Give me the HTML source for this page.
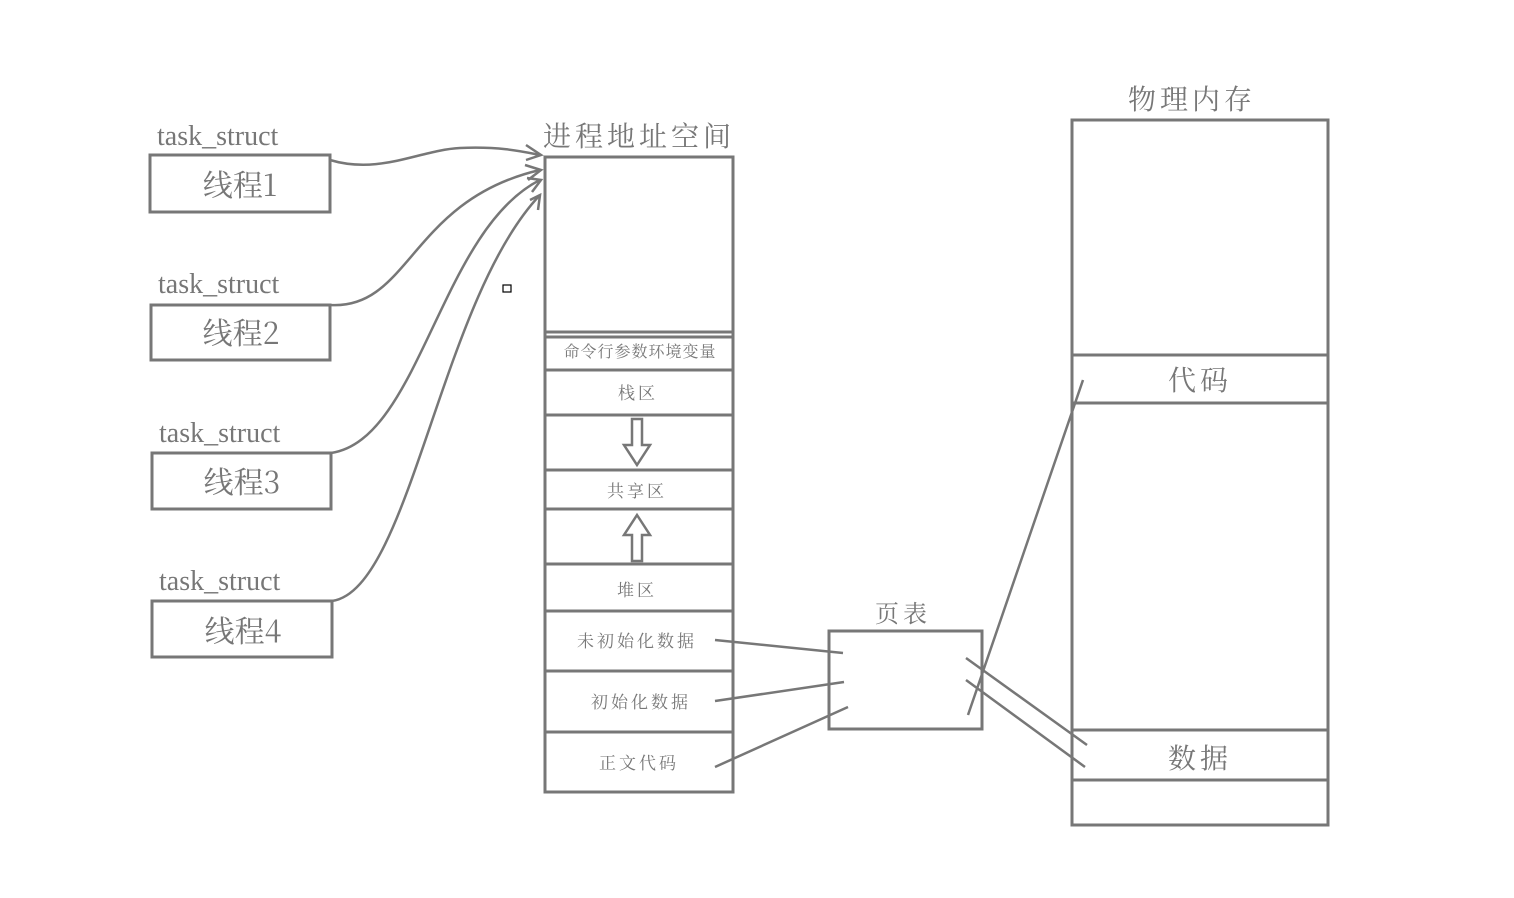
<!DOCTYPE html>
<html><head><meta charset="utf-8"><style>
body{margin:0;background:#fff}
svg text{fill:#777}
.s{font-family:"Liberation Serif","Noto Serif CJK SC",serif}
.c{font-family:"Noto Serif CJK SC","WenQuanYi Zen Hei",serif}
</style></head><body>
<svg width="1514" height="893" xmlns="http://www.w3.org/2000/svg">
<g fill="none" stroke="#777" stroke-width="3">
<rect x="150" y="155" width="180" height="57"/>
<rect x="151" y="305" width="179" height="55"/>
<rect x="152" y="453" width="179" height="56"/>
<rect x="152" y="601" width="180" height="56"/>
<rect x="545" y="157" width="188" height="635"/>
<path d="M545 332H733M545 337H733M545 370H733M545 415H733M545 470H733M545 509H733M545 564H733M545 611H733M545 671H733M545 732H733"/>
<rect x="829" y="631" width="153" height="98"/>
<rect x="1072" y="120" width="256" height="705"/>
<path d="M1072 355H1328M1072 403H1328M1072 730H1328M1072 780H1328"/>
<path d="M715 640L843 653M715 701L844 682M715 767L848 707M968 715L1083 380M966 658L1087 745M966 680L1085 767" stroke-width="2.5"/>
<path d="M330 160C380 175 420 150 460 148C500 146 525 152 540 155" stroke-width="2.5"/>
<path d="M330 305C410 310 410 200 540 170" stroke-width="2.5"/>
<path d="M331 453C420 440 440 230 540 180" stroke-width="2.5"/>
<path d="M332 601C410 590 440 300 540 195" stroke-width="2.5"/>
<path d="M526 145L541 155L526 160M525 165L541 170L528 180M527 178L541 180L532 192M530 200L540 195L538 210" stroke-width="2.5"/>
<path d="M632 419H642V445H650L637 465L624 445H632Z" stroke-width="2.5"/>
<path d="M632 561H642V535H650L637 515L624 535H632Z" stroke-width="2.5"/>
<rect x="503" y="285" width="8" height="7" stroke="#000" stroke-width="1.2"/>
</g>
<g class="s" font-size="28">
<text x="157" y="145">task_struct</text>
<text x="158" y="293">task_struct</text>
<text x="159" y="442">task_struct</text>
<text x="159" y="590">task_struct</text>
</g>
<g class="c" font-size="30" text-anchor="middle">
<text x="240" y="196">线程1</text>
<text x="241" y="344">线程2</text>
<text x="242" y="493">线程3</text>
<text x="243" y="642">线程4</text>
<text x="639" y="146" font-size="28" letter-spacing="4">进程地址空间</text>
<text x="1192" y="109" font-size="28" letter-spacing="4">物理内存</text>
<text x="903" y="622" font-size="24" letter-spacing="4">页表</text>
<text x="1200" y="390" font-size="28" letter-spacing="4">代码</text>
<text x="1200" y="768" font-size="28" letter-spacing="4">数据</text>
</g>
<g class="c" font-size="17" text-anchor="middle" letter-spacing="3">
<text x="640" y="357" font-size="16" letter-spacing="1">命令行参数环境变量</text>
<text x="638" y="399">栈区</text>
<text x="637" y="497">共享区</text>
<text x="637" y="596">堆区</text>
<text x="637" y="647">未初始化数据</text>
<text x="641" y="708">初始化数据</text>
<text x="639" y="769">正文代码</text>
</g>
</svg>
</body></html>
